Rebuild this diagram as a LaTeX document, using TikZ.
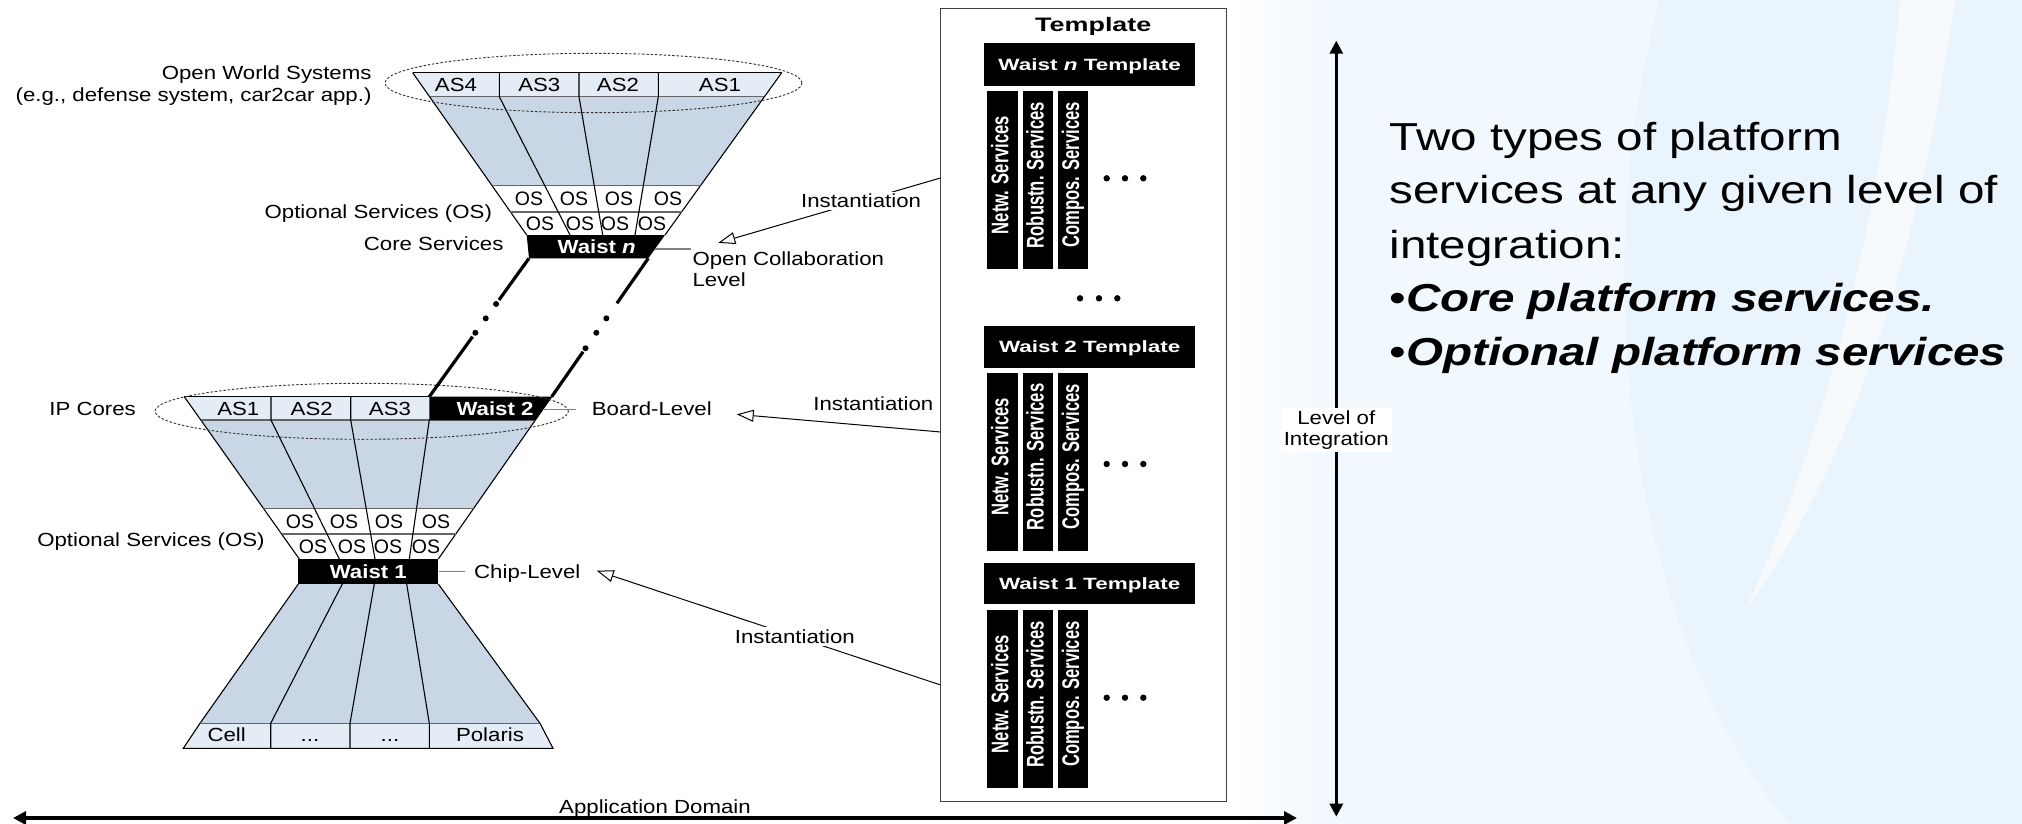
\documentclass[tikz,border=0pt]{standalone}
\usepackage{graphicx}
\usepackage{fontspec}
\setmainfont{Liberation Sans}
\newfontfamily\dfont[FakeStretch=1.17]{Liberation Sans}
\newfontfamily\tfont[FakeStretch=1.38]{Liberation Sans}
\newfontfamily\rfont[FakeStretch=1.22]{Liberation Sans}
\usetikzlibrary{arrows.meta,calc}
\definecolor{funblue}{RGB}{200,214,230}
\definecolor{bandblue}{RGB}{228,236,246}
\definecolor{bgA}{RGB}{241,248,254}
\definecolor{bgB}{RGB}{234,244,252}
\definecolor{rowgray}{RGB}{100,100,100}
\begin{document}
\begin{tikzpicture}[x=1pt,y=-1pt,line width=1.1pt,
  lbl/.style={font=\dfont\fontsize{19}{21}\selectfont, inner sep=0pt, text height=13.6pt, text depth=0pt},
  oslbl/.style={font=\rmfamily\fontsize{19.5}{21}\selectfont, inner sep=0pt, text height=14pt, text depth=0pt},
  wlbl/.style={lbl, font=\dfont\bfseries\fontsize{19}{21}\selectfont, text=white},
  tlbl/.style={font=\tfont\bfseries\fontsize{16.3}{18}\selectfont, text=white, inner sep=0pt, text height=11.7pt, text depth=0pt},
  ttitle/.style={font=\tfont\bfseries\fontsize{19.5}{22}\selectfont, inner sep=0pt, text height=14pt, text depth=0pt},
  coltxt/.style={font=\rmfamily\bfseries\fontsize{16.6}{18}\selectfont, text=white, inner sep=0pt, rotate=90, text height=11.9pt, text depth=0pt},
  rt/.style={font=\rfont\fontsize{39}{46}\selectfont, inner sep=0pt},
  rowline/.style={draw=rowgray, line width=1.6pt},
  ell/.style={draw=black!80, line width=0.9pt, dash pattern=on 2.5pt off 1.8pt},
  tick/.style={draw=gray, line width=1.3pt},
  thickl/.style={line width=3.2pt},
  inst/.style={line width=1pt, -{Triangle[open,length=17pt,width=12pt]}},
  bigarrow/.style={line width=3.5pt, {Triangle[length=13pt,width=13pt]}-{Triangle[length=13pt,width=13pt]}}
]
\useasboundingbox (0,0) rectangle (2022,824);
% ---------- background ----------
\fill[white] (0,0) rectangle (2022,824);
\shade[left color=white,right color=bgA] (1228,0) rectangle (1330,824);
\fill[bgA] (1330,0) rectangle (2022,824);
\fill[bgB] (1660,0) .. controls (1580,300) and (1640,650) .. (1790,824) -- (2022,824) -- (2022,0) -- cycle;
\fill[white,opacity=0.6] (1900,0) .. controls (1880,230) and (1820,450) .. (1745,610) .. controls (1850,470) and (1920,250) .. (1955,0) -- cycle;

% ---------- top funnel ----------
\fill[funblue] (429.6,96.7) -- (764.4,96.7) -- (700.5,185.7) -- (492.1,185.7) -- cycle;
\fill[bandblue] (412.7,72.7) -- (781.7,72.7) -- (764.4,96.7) -- (429.6,96.7) -- cycle;
\fill[white] (492.1,185.7) -- (700.5,185.7) -- (665,235) -- (526.7,235) -- cycle;
\draw (412.7,72.7) -- (781.7,72.7);
\draw (412.7,72.7) -- (526.7,235);
\draw (781.7,72.7) -- (665,235);
\draw[rowline] (429.6,96.7) -- (764.4,96.7);
\draw[rowline] (492.1,185.7) -- (700.5,185.7);
\draw[rowline] (510.3,211.7) -- (681.7,211.7);
\draw (499.3,72.7) -- (499.3,96.7) -- (570,235);
\draw (579,72.7) -- (579,96.7) -- (602.7,235);
\draw (658.3,72.7) -- (658.3,96.7) -- (635,235);
\fill (526.7,235) -- (665,235) -- (648.3,258.3) -- (529,258.3) -- cycle;
\node[wlbl] (wn) at (596.7,247) {Waist \textit{n}};
\node[lbl] (tas4) at (456,84.3) {AS4};
\node[lbl] (tas3) at (539.3,84.3) {AS3};
\node[lbl] (tas2) at (618,84.3) {AS2};
\node[lbl] (tas1) at (720,84.3) {AS1};
\node[oslbl] (tos1) at (529,198.7) {OS};
\node[oslbl] (tos2) at (574,198.7) {OS};
\node[oslbl] (tos3) at (619,198.7) {OS};
\node[oslbl] (tos4) at (668,198.7) {OS};
\node[oslbl] (tos5) at (540,223.3) {OS};
\node[oslbl] (tos6) at (580,223.3) {OS};
\node[oslbl] (tos7) at (615,223.3) {OS};
\node[oslbl] (tos8) at (652,223.3) {OS};
\draw[ell] (593.5,83) ellipse [x radius=208.5pt, y radius=29.7pt];
\draw[tick] (655,249) -- (691,249);

% ---------- middle funnel ----------
\fill[funblue] (200.8,420) -- (535.4,420) -- (473.7,508.3) -- (263.4,508.3) -- cycle;
\fill[bandblue] (184.3,396.7) -- (429.3,396.7) -- (429.3,420) -- (200.8,420) -- cycle;
\fill[white] (263.4,508.3) -- (473.7,508.3) -- (438.3,559) -- (299.3,559) -- cycle;
\draw (184.3,396.7) -- (429.3,396.7);
\draw (184.3,396.7) -- (299.3,559);
\draw (551.7,396.7) -- (438.3,559);
\draw[rowline] (200.8,420) -- (535.4,420);
\draw[rowline] (263.4,508.3) -- (473.7,508.3);
\draw[rowline] (281.6,534) -- (455.8,534);
\draw (271,396.7) -- (271,420) -- (339.3,559);
\draw (350.7,396.7) -- (350.7,420) -- (375,559);
\draw (429.3,420) -- (409.3,559);
\fill (429.3,396.7) -- (551.7,396.7) -- (535.4,420) -- (429.3,420) -- cycle;
\node[wlbl] (w2) at (495,408.3) {Waist 2};
\node[lbl] (mas1) at (238.3,408.3) {AS1};
\node[lbl] (mas2) at (311.7,408.3) {AS2};
\node[lbl] (mas3) at (390,408.3) {AS3};
\node[oslbl] (mos1) at (300,521.2) {OS};
\node[oslbl] (mos2) at (344,521.2) {OS};
\node[oslbl] (mos3) at (389,521.2) {OS};
\node[oslbl] (mos4) at (436,521.2) {OS};
\node[oslbl] (mos5) at (313,546.5) {OS};
\node[oslbl] (mos6) at (352,546.5) {OS};
\node[oslbl] (mos7) at (388,546.5) {OS};
\node[oslbl] (mos8) at (426,546.5) {OS};
\draw[ell] (361.7,411.3) ellipse [x radius=206.7pt, y radius=28pt];
\draw[tick] (543,409.3) -- (576,409.3);

% ---------- lower funnel ----------
\fill[funblue] (298.3,584) -- (438.3,584) -- (540,723.3) -- (200,723.3) -- cycle;
\fill[bandblue] (200,723.3) -- (540,723.3) -- (553,748.3) -- (183.3,748.3) -- cycle;
\draw (298.3,584) -- (200,723.3) -- (183.3,748.3) -- (553,748.3) -- (540,723.3) -- (438.3,584);
\draw[rowline] (200,723.3) -- (540,723.3);
\draw (342.3,584) -- (270.7,723.3) -- (270.7,748.3);
\draw (374.3,584) -- (350,723.3) -- (350,748.3);
\draw (406.7,584) -- (429.3,723.3) -- (429.3,748.3);
\fill (298.3,559) rectangle (438.3,584);
\node[wlbl] (w1) at (368.3,571.7) {Waist 1};
\node[lbl] (bcell) at (226.7,735) {Cell};
\node[lbl] (bdot1) at (310,735) {...};
\node[lbl] (bdot2) at (390,735) {...};
\node[lbl] (bpol) at (490,735) {Polaris};
\draw[tick] (439.2,571.7) -- (465,571.7);

% ---------- thick links between waists ----------
\coordinate (wnBL) at (529,258.3);
\coordinate (w2TL) at (429.3,396.7);
\coordinate (wnBR) at (648.3,258.3);
\coordinate (w2TR) at (551.7,396.7);
\draw[thickl] (wnBL) -- ($(wnBL)!0.301!(w2TL)$);
\draw[thickl] ($(wnBL)!0.566!(w2TL)$) -- (w2TL);
\foreach \t in {0.33,0.434,0.538} \fill ($(wnBL)!\t!(w2TL)$) circle (3pt);
\draw[thickl] (wnBR) -- ($(wnBR)!0.325!(w2TR)$);
\draw[thickl] ($(wnBR)!0.675!(w2TR)$) -- (w2TR);
\foreach \t in {0.434,0.538,0.65} \fill ($(wnBR)!\t!(w2TR)$) circle (3pt);

% ---------- left labels ----------
\node[lbl, anchor=east] (ows) at (372,72.7) {Open World Systems};
\node[lbl, anchor=east] (owse) at (372,95) {(e.g., defense system, car2car app.)};
\node[lbl, anchor=east] (optu) at (492.5,211.7) {Optional Services (OS)};
\node[lbl, anchor=east] (core) at (504,243.3) {Core Services};
\node[lbl, anchor=west] (ocl1) at (692,258.3) {Open Collaboration};
\node[lbl, anchor=west] (ocl2) at (692,280) {Level};
\node[lbl, anchor=west] (ipc) at (48.8,408.3) {IP Cores};
\node[lbl, anchor=east] (optl) at (265.2,540) {Optional Services (OS)};
\node[lbl, anchor=west] (board) at (591.3,408.3) {Board-Level};
\node[lbl, anchor=west] (chip) at (473.6,571.7) {Chip-Level};

% ---------- instantiation arrows ----------
\coordinate (i1s) at (940.7,177.9);
\coordinate (i1t) at (718.3,242.9);
\coordinate (i2s) at (940.7,432);
\coordinate (i2t) at (736.7,414.3);
\coordinate (i3s) at (940.7,685);
\coordinate (i3t) at (596.7,570.7);
\draw[inst] (i1s) -- node[lbl, fill=white, inner sep=2.5pt, pos=0.358] (inst1) {Instantiation} (i1t);
\draw[inst] (i2s) -- (i2t);
\node[lbl] (inst2) at (873.3,404) {Instantiation};
\draw[inst] (i3s) -- node[lbl, fill=white, inner sep=2.5pt, pos=0.424] (inst3) {Instantiation} (i3t);

% ---------- template ----------
\node[draw=black!75, line width=1.2pt, fill=white, minimum width=286pt, minimum height=793.4pt, inner sep=0pt] (tmpl) at (1083.7,405) {};
\node[ttitle] (ttl) at (1093.3,25) {Template};
\foreach \nm/\lab/\bt/\bb/\ct/\cb/\dy in {n/{Waist \textit{n} Template}/43.3/86/90.7/269.3/178.3, two/{Waist 2 Template}/326/367.7/372.7/551/464, one/{Waist 1 Template}/562.7/604/610/788.3/697.7}{
  \pgfmathsetmacro\by{(\bt+\bb)/2}
  \pgfmathsetmacro\cy{(\ct+\cb)/2-5}
  \fill (984.3,\bt) rectangle (1195,\bb);
  \node[tlbl] (wt\nm) at (1089.7,\by) {\lab};
  \fill (987.3,\ct) rectangle (1017.7,\cb);
  \fill (1022.7,\ct) rectangle (1052.7,\cb);
  \fill (1058,\ct) rectangle (1088.3,\cb);
  \node[coltxt] (na\nm) at (1002.5,\cy) {\scalebox{1}[1.45]{Netw. Services}};
  \node[coltxt] (nb\nm) at (1037.7,\cy) {\scalebox{1}[1.45]{Robustn. Services}};
  \node[coltxt] (nc\nm) at (1073.2,\cy) {\scalebox{1}[1.45]{Compos. Services}};
  \foreach \dx in {1106.7,1125,1143.3} \fill (\dx,\dy) circle (3.2pt);
}
\foreach \dx in {1080,1099,1117.3} \fill (\dx,298.3) circle (3.2pt);

% ---------- axes ----------
\coordinate (adL) at (13,818);
\coordinate (adR) at (1297,818);
\draw[bigarrow] (adL) -- (adR);
\node[lbl] (appdom) at (655,806.7) {Application Domain};
\coordinate (liT) at (1336.3,40.7);
\coordinate (liB) at (1336.3,816.7);
\draw[bigarrow, line width=3pt] (liB) -- (liT);
\node[fill=white, font=\dfont\fontsize{19}{21}\selectfont, align=center, inner sep=3pt] (loi) at (1336.3,430) {Level of\\Integration};

% ---------- right text ----------
\node[rt, anchor=base west] (rt1) at (1389,150.7) {Two types of platform};
\node[rt, anchor=base west] (rt2) at (1389,204) {services at any given level of};
\node[rt, anchor=base west] (rt3) at (1389,258.3) {integration:};
\node[rt, anchor=base west] (rt4) at (1389,311.7) {•\textbf{\textit{Core platform services.}}};
\node[rt, anchor=base west] (rt5) at (1389,365) {•\textbf{\textit{Optional platform services}}};
\end{tikzpicture}
\end{document}
